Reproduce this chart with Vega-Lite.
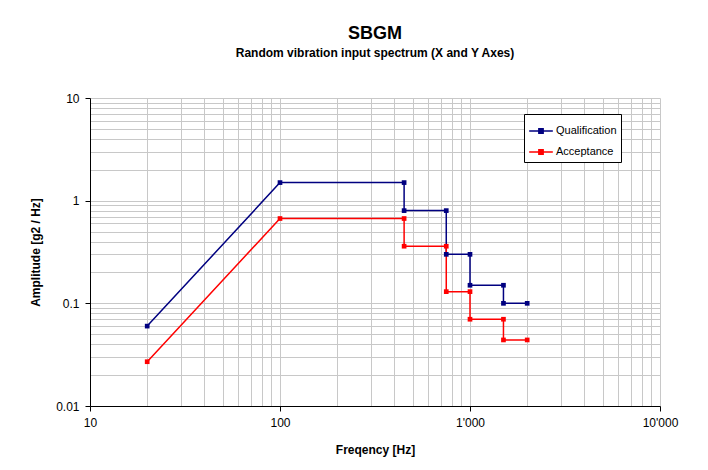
{
  "$schema": "https://vega.github.io/schema/vega-lite/v6.json",
  "autosize": {"type": "none"},
  "padding": {"left": 90, "top": 98, "right": 48, "bottom": 64},
  "width": 570,
  "height": 308,
  "background": "white",
  "config": {
    "font": "Liberation Sans",
    "view": {"stroke": null},
    "axis": {"labelFont": "Liberation Sans", "titleFont": "Liberation Sans"}
  },
  "title": {
    "text": "SBGM",
    "subtitle": "Random vibration input spectrum (X and Y Axes)",
    "font": "Liberation Sans",
    "fontSize": 18,
    "fontWeight": "bold",
    "color": "black",
    "subtitleFont": "Liberation Sans",
    "subtitleFontSize": 12,
    "subtitleFontWeight": "bold",
    "subtitleColor": "black",
    "subtitlePadding": 5,
    "anchor": "middle",
    "offset": 33
  },
  "data": {
    "values": [
      {"series": "Qualification", "order": 1, "freq": 20, "amp": 0.06},
      {"series": "Qualification", "order": 2, "freq": 100, "amp": 1.5},
      {"series": "Qualification", "order": 3, "freq": 450, "amp": 1.5},
      {"series": "Qualification", "order": 4, "freq": 450, "amp": 0.8},
      {"series": "Qualification", "order": 5, "freq": 750, "amp": 0.8},
      {"series": "Qualification", "order": 6, "freq": 750, "amp": 0.3},
      {"series": "Qualification", "order": 7, "freq": 1000, "amp": 0.3},
      {"series": "Qualification", "order": 8, "freq": 1000, "amp": 0.15},
      {"series": "Qualification", "order": 9, "freq": 1500, "amp": 0.15},
      {"series": "Qualification", "order": 10, "freq": 1500, "amp": 0.1},
      {"series": "Qualification", "order": 11, "freq": 2000, "amp": 0.1},
      {"series": "Acceptance", "order": 1, "freq": 20, "amp": 0.027},
      {"series": "Acceptance", "order": 2, "freq": 100, "amp": 0.67},
      {"series": "Acceptance", "order": 3, "freq": 450, "amp": 0.67},
      {"series": "Acceptance", "order": 4, "freq": 450, "amp": 0.36},
      {"series": "Acceptance", "order": 5, "freq": 750, "amp": 0.36},
      {"series": "Acceptance", "order": 6, "freq": 750, "amp": 0.13},
      {"series": "Acceptance", "order": 7, "freq": 1000, "amp": 0.13},
      {"series": "Acceptance", "order": 8, "freq": 1000, "amp": 0.07},
      {"series": "Acceptance", "order": 9, "freq": 1500, "amp": 0.07},
      {"series": "Acceptance", "order": 10, "freq": 1500, "amp": 0.044},
      {"series": "Acceptance", "order": 11, "freq": 2000, "amp": 0.044}
    ]
  },
  "mark": {"type": "line", "strokeWidth": 1.5, "point": {"shape": "square", "size": 22, "filled": true, "opacity": 1}},
  "encoding": {
    "x": {
      "field": "freq",
      "type": "quantitative",
      "scale": {"type": "log", "domain": [10, 10000], "nice": false},
      "axis": {
        "title": "Freqency [Hz]",
        "titleFontSize": 12,
        "titleFontWeight": "bold",
        "titleColor": "black",
        "titlePadding": 16,
        "values": [10,20,30,40,50,60,70,80,90,100,200,300,400,500,600,700,800,900,1000,2000,3000,4000,5000,6000,7000,8000,9000,10000],
        "labelExpr": "datum.value == 10 ? '10' : datum.value == 100 ? '100' : datum.value == 1000 ? \"1'000\" : datum.value == 10000 ? \"10'000\" : ''",
        "labelFontSize": 12,
        "labelColor": "black",
        "labelPadding": 6,
        "labelFlush": false,
        "labelOverlap": false,
        "domainColor": "black",
        "tickColor": "black",
        "tickSize": 5,
        "tickOpacity": {"condition": {"test": "datum.value == 10 || datum.value == 100 || datum.value == 1000 || datum.value == 10000", "value": 1}, "value": 0},
        "grid": true,
        "gridColor": "#c8c8c8",
        "gridWidth": 1,
        "gridOpacity": 1
      }
    },
    "y": {
      "field": "amp",
      "type": "quantitative",
      "scale": {"type": "log", "domain": [0.01, 10], "nice": false},
      "axis": {
        "title": "Amplitude [g2 / Hz]",
        "titleFontSize": 12,
        "titleFontWeight": "bold",
        "titleColor": "black",
        "titlePadding": 13,
        "values": [0.01,0.02,0.03,0.04,0.05,0.06,0.07,0.08,0.09,0.1,0.2,0.3,0.4,0.5,0.6,0.7,0.8,0.9,1,2,3,4,5,6,7,8,9,10],
        "labelExpr": "datum.value == 0.01 ? '0.01' : datum.value == 0.1 ? '0.1' : datum.value == 1 ? '1' : datum.value == 10 ? '10' : ''",
        "labelFontSize": 12,
        "labelColor": "black",
        "labelPadding": 6,
        "labelFlush": false,
        "labelOverlap": false,
        "domainColor": "black",
        "tickColor": "black",
        "tickSize": 5,
        "tickOpacity": {"condition": {"test": "datum.value == 0.01 || datum.value == 0.1 || datum.value == 1 || datum.value == 10", "value": 1}, "value": 0},
        "grid": true,
        "gridColor": "#c8c8c8",
        "gridWidth": 1,
        "gridOpacity": 1
      }
    },
    "color": {
      "field": "series",
      "type": "nominal",
      "scale": {"domain": ["Qualification", "Acceptance"], "range": ["#000080", "#ff0000"]},
      "legend": {
        "title": null,
        "orient": "none",
        "legendX": 434,
        "legendY": 16,
        "fillColor": "white",
        "strokeColor": "black",
        "padding": 4,
        "labelFont": "Liberation Sans",
        "labelFontSize": 11,
        "labelColor": "black",
        "symbolType": "M-1,0H1M-0.18,-0.18H0.18V0.18H-0.18Z",
        "symbolSize": 560,
        "symbolStrokeWidth": 1.5,
        "rowPadding": 2,
        "labelOffset": 2
      }
    },
    "order": {"field": "order", "type": "quantitative"}
  }
}
